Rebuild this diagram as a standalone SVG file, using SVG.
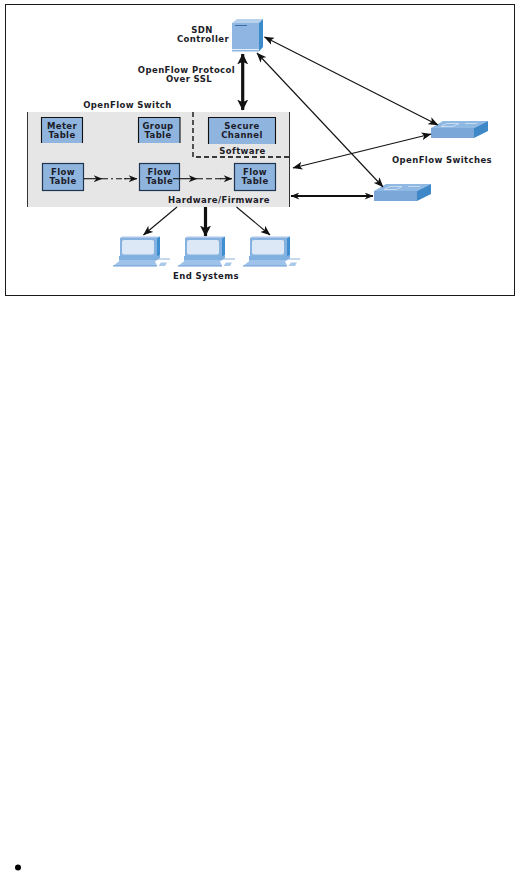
<svg xmlns="http://www.w3.org/2000/svg" width="519" height="871" viewBox="0 0 519 871">
<style>
text{font-family:"DejaVu Sans","Liberation Sans",sans-serif;font-weight:bold;font-size:8.5px;letter-spacing:0.4px;fill:#1c1c28;text-anchor:middle}
.box{fill:#8fb4de;stroke:#1f3550;stroke-width:1.2}
.tab{fill:#8fb4de}
.ln{fill:none;stroke:#111;stroke-width:1.100}
.thick{fill:none;stroke:#111;stroke-width:2}
.vthick{fill:none;stroke:#111;stroke-width:3.200}
</style>
<defs>
<marker id="a" viewBox="0 0 10 8" refX="9.500" refY="4" markerWidth="10" markerHeight="8" markerUnits="userSpaceOnUse" orient="auto-start-reverse"><path d="M0,0L10,4L0,8L2.500,4Z" fill="#111"/></marker>
<marker id="b" viewBox="0 0 10 8" refX="9.500" refY="4" markerWidth="11" markerHeight="7" markerUnits="userSpaceOnUse" orient="auto-start-reverse"><path d="M0,0L10,4L0,8L3,4Z" fill="#111"/></marker>
<marker id="c" viewBox="0 0 10 10" refX="9.500" refY="5" markerWidth="11" markerHeight="11" markerUnits="userSpaceOnUse" orient="auto-start-reverse"><path d="M0,0L10,5L0,10L2.500,5Z" fill="#111"/></marker>
<g id="pc">
<path d="M0,2L2,0.500H40L37,2Z" fill="#a9c8ea"/>
<path d="M0,2H37V20H0Z" fill="#86b2e2"/>
<path d="M37,2L40,0.500V19L37,22Z" fill="#3f8fd0"/>
<rect x="2" y="4" width="32" height="14.500" rx="2" fill="#dce8f6"/>
<path d="M-1,20H37L40,19.500V22L36,24.700H-1Z" fill="#7fb0e0"/>
<path d="M-0.500,25H35L37,30H-7Z" fill="#9ec2ea"/>
<path d="M-7,29.500H37V30.500H-7Z" fill="#6a9ed4"/>
<path d="M41,26.500H47L45,30H38.500Z" fill="#a9c8ea"/>
<path d="M37,23H50" stroke="#8ab0dc" stroke-width="1" fill="none"/>
</g>
<g id="sw">
<path d="M0,7L12,0H57L43,7Z" fill="#8fb8e2"/>
<path d="M0,7H43V17H0Z" fill="#7aa6d8"/>
<path d="M43,7L57,0V10L43,17Z" fill="#3f88c8"/>
<path d="M16,2.500H28L22,5.500H10ZM34,2.500H46" fill="none" stroke="#d4e2f2" stroke-width="0.800"/>
</g>
</defs>
<rect width="519" height="871" fill="#fff"/>
<rect id="frame" x="5.500" y="4.500" width="509" height="291" fill="none" stroke="#1a1a1a" stroke-width="1"/>
<g id="openflow-switch">
<rect x="27" y="112" width="262.500" height="95" fill="#e6e6e6"/>
<path d="M27.500,112V207M289.500,112V207" stroke="#333" stroke-width="1" fill="none"/>
<text x="127.500" y="107.500">OpenFlow Switch</text>
<path d="M193,112V157H289" fill="none" stroke="#000" stroke-width="1.300" stroke-dasharray="5 3"/>
<text x="242.500" y="154">Software</text>
<text x="219" y="202.500">Hardware/Firmware</text>
</g>
<g id="meter-table"><path class="tab" d="M41.500,143V117.500H82.500V143"/><path class="ln" d="M41.500,143V117.500H82.500V143"/><text x="62" y="128.500">Meter</text><text x="62" y="138">Table</text></g>
<g id="group-table"><path class="tab" d="M138.500,143V117.500H180V143"/><path class="ln" d="M138.500,143V117.500H180V143"/><text x="158" y="128.500">Group</text><text x="158" y="138">Table</text></g>
<g id="secure-channel"><path class="tab" d="M208.500,144V117.500H275.500V144"/><path class="ln" d="M208.500,144V117.500H275.500V144"/><text x="242" y="128.500">Secure</text><text x="242" y="138">Channel</text></g>
<g id="flow-table-1"><rect class="box" x="42.500" y="163.500" width="41" height="27"/><text x="63" y="175">Flow</text><text x="63" y="184">Table</text></g>
<g id="flow-table-2"><rect class="box" x="139.500" y="163.500" width="40" height="27"/><text x="159.500" y="175">Flow</text><text x="159.500" y="184">Table</text></g>
<g id="flow-table-3"><rect class="box" x="234.500" y="163.500" width="41" height="27"/><text x="255" y="175">Flow</text><text x="255" y="184">Table</text></g>
<g id="sdn-controller">
<path d="M232,23L237,19H263L259,23Z" fill="#b7d0ec"/>
<path d="M232,23H259V51.500H232Z" fill="#8fb6e2"/>
<path d="M259,23L263,19V47L259,51.500Z" fill="#3c8ccc"/>
<path d="M235,25.500H247" stroke="#3a6ea8" stroke-width="1"/>
<path d="M232,49.500H259" stroke="#e4eef8" stroke-width="1"/>
<text x="202" y="32.500">SDN</text>
<text x="203" y="41.700">Controller</text>
</g>
<text x="186.500" y="72.700">OpenFlow Protocol</text>
<text x="189" y="81.700">Over SSL</text>
<g id="switch-1"><use href="#sw" x="431" y="121"/></g>
<g id="switch-2"><use href="#sw" x="374" y="184"/></g>
<text x="442" y="162.700">OpenFlow Switches</text>
<g id="end-system-1"><use href="#pc" x="120" y="236"/></g>
<g id="end-system-2"><use href="#pc" x="185" y="236"/></g>
<g id="end-system-3"><use href="#pc" x="250" y="236"/></g>
<text x="206" y="279">End Systems</text>
<g id="connectors">
<path class="vthick" d="M242.700,54V110" marker-start="url(#c)" marker-end="url(#c)"/>
<path class="ln" d="M264.500,37L438,125" marker-start="url(#a)" marker-end="url(#a)"/>
<path class="ln" d="M257,53L383,187" marker-start="url(#a)" marker-end="url(#a)"/>
<path class="ln" d="M431,134L293,168" marker-start="url(#a)" marker-end="url(#a)"/>
<path class="thick" d="M291,196H373" marker-start="url(#b)" marker-end="url(#b)"/>
<path class="ln" d="M84,178.700H102" marker-end="url(#b)"/>
<path class="ln" d="M102,178.700H126" stroke-dasharray="6 3 2 3"/>
<path class="ln" d="M124,178.700H137" marker-end="url(#b)"/>
<path class="ln" d="M173,178.700H197" marker-end="url(#b)"/>
<path class="ln" d="M197,178.700H222" stroke-dasharray="6 3"/>
<path class="ln" d="M220,178.700H232" marker-end="url(#b)"/>
<path class="ln" d="M177,207L143.500,235" marker-end="url(#a)"/>
<path class="vthick" d="M205.500,207V236" marker-end="url(#c)"/>
<path class="ln" d="M236.500,207L270,235" marker-end="url(#a)"/>
</g>
<circle id="bullet" cx="18" cy="867.500" r="3" fill="#000"/>
</svg>
